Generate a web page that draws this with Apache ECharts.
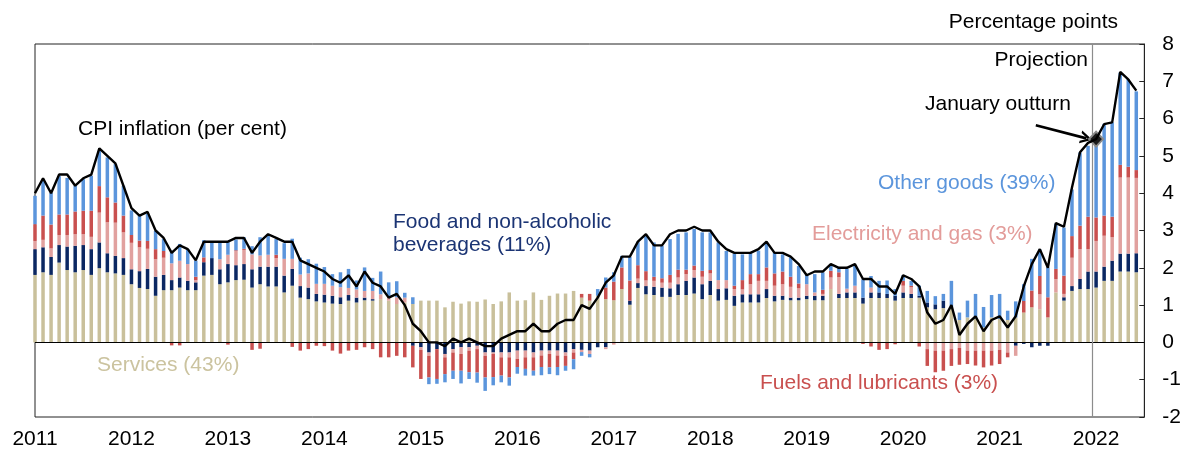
<!DOCTYPE html>
<html>
<head>
<meta charset="utf-8">
<script src="https://cdn.jsdelivr.net/npm/echarts@6/dist/echarts.min.js"></script>
<style>
  html, body { margin: 0; padding: 0; background: #fff; }
  #main { width: 1184px; height: 450px; }
</style>
</head>
<body>
<div id="main"></div>
<script>
// months from Jan 2011 (index 0) to Jun 2022 (index 137)
var yearLabels = ['2011','2012','2013','2014','2015','2016','2017','2018','2019','2020','2021','2022'];

// CPI inflation, per cent
var cpi = [
  4.0, 4.4, 4.0, 4.5, 4.5, 4.2, 4.4, 4.5, 5.2, 5.0, 4.8, 4.2,
  3.6, 3.4, 3.5, 3.0, 2.8, 2.4, 2.6, 2.5, 2.2, 2.7, 2.7, 2.7,
  2.7, 2.8, 2.8, 2.4, 2.7, 2.9, 2.8, 2.7, 2.7, 2.2, 2.1, 2.0,
  1.9, 1.7, 1.6, 1.8, 1.5, 1.9, 1.6, 1.5, 1.2, 1.3, 1.0, 0.5,
  0.3, 0.0, 0.0, -0.1, 0.1, 0.0, 0.1, 0.0, -0.1, -0.1, 0.1, 0.2,
  0.3, 0.3, 0.5, 0.3, 0.3, 0.5, 0.6, 0.6, 1.0, 0.9, 1.2, 1.6,
  1.8, 2.3, 2.3, 2.7, 2.9, 2.6, 2.6, 2.9, 3.0, 3.0, 3.1, 3.0,
  3.0, 2.7, 2.5, 2.4, 2.4, 2.4, 2.5, 2.7, 2.4, 2.4, 2.3, 2.1,
  1.8, 1.9, 1.9, 2.1, 2.0, 2.0, 2.1, 1.7, 1.7, 1.5, 1.5, 1.3,
  1.8, 1.7, 1.5, 0.8, 0.5, 0.6, 1.0, 0.2, 0.5, 0.7, 0.3, 0.6,
  0.7, 0.4, 0.7, 1.5, 2.1, 2.5, 2.0, 3.2, 3.1, 4.15, 5.1, 5.35,
  5.45, 5.85, 5.9, 7.25, 7.05, 6.75
];

// contributions, percentage points
var services = [
  1.81, 1.88, 1.81, 2.14, 1.94, 1.88, 1.94, 1.81, 1.99, 1.88, 1.85, 1.81,
  1.56, 1.46, 1.43, 1.25, 1.40, 1.40, 1.47, 1.40, 1.40, 1.79, 1.81, 1.56,
  1.61, 1.67, 1.68, 1.47, 1.56, 1.50, 1.50, 1.34, 1.52, 1.20, 1.16, 1.10,
  1.07, 1.04, 1.03, 1.12, 1.07, 1.13, 1.12, 1.16, 1.12, 1.03, 1.07, 1.03,
  1.12, 1.12, 1.12, 0.94, 1.09, 1.04, 1.10, 1.09, 1.15, 1.03, 1.10, 1.34,
  1.12, 1.13, 1.34, 1.14, 1.25, 1.31, 1.31, 1.38, 1.20, 1.12, 1.25, 1.16,
  1.13, 1.43, 1.01, 1.46, 1.29, 1.27, 1.22, 1.22, 1.27, 1.27, 1.31, 1.16,
  1.27, 1.12, 1.14, 0.98, 1.07, 1.07, 1.07, 1.19, 1.10, 1.14, 1.13, 1.13,
  1.16, 1.13, 1.13, 1.43, 1.19, 1.19, 1.19, 1.04, 1.19, 1.19, 1.19, 1.12,
  1.19, 1.19, 1.20, 0.94, 0.89, 0.92, 0.94, 0.60, 0.67, 0.63, 0.40, 0.67,
  0.63, 0.60, 0.67, 0.80, 0.94, 0.89, 0.67, 1.34, 1.12, 1.38, 1.43, 1.43,
  1.47, 1.65, 1.65, 1.90, 1.90, 1.88
];
var food = [
  0.69, 0.67, 0.48, 0.47, 0.63, 0.71, 0.67, 0.69, 0.69, 0.51, 0.47, 0.45,
  0.40, 0.45, 0.54, 0.51, 0.41, 0.27, 0.27, 0.25, 0.21, 0.36, 0.45, 0.40,
  0.49, 0.40, 0.42, 0.49, 0.47, 0.53, 0.53, 0.45, 0.45, 0.31, 0.31, 0.20,
  0.21, 0.21, 0.18, 0.15, 0.13, 0.07, 0.04, 0.00, 0.00, 0.00, 0.00, -0.09,
  -0.13, -0.27, -0.18, -0.31, -0.18, -0.13, -0.13, -0.09, -0.27, -0.27, -0.27, -0.27,
  -0.22, -0.22, -0.27, -0.22, -0.22, -0.22, -0.27, -0.18, -0.20, -0.22, -0.13, -0.13,
  0.00, 0.00, 0.11, 0.13, 0.22, 0.22, 0.25, 0.23, 0.29, 0.38, 0.43, 0.40,
  0.38, 0.31, 0.31, 0.27, 0.22, 0.22, 0.22, 0.24, 0.15, 0.11, 0.07, 0.07,
  0.09, 0.12, 0.12, 0.00, 0.11, 0.15, 0.15, 0.16, 0.15, 0.15, 0.11, 0.13,
  0.15, 0.11, 0.05, 0.13, 0.13, 0.20, 0.00, 0.00, 0.00, 0.00, 0.00, 0.00,
  0.00, 0.00, -0.09, -0.04, -0.13, -0.09, -0.09, 0.00, 0.09, 0.13, 0.27, 0.47,
  0.43, 0.38, 0.54, 0.48, 0.48, 0.51
];
var elecGas = [
  0.22, 0.20, 0.23, 0.27, 0.31, 0.31, 0.29, 0.33, 0.80, 0.83, 0.89, 0.69,
  0.71, 0.64, 0.54, 0.47, 0.46, 0.45, 0.45, 0.45, 0.06, 0.00, 0.00, 0.27,
  0.25, 0.38, 0.38, 0.40, 0.30, 0.32, 0.23, 0.45, 0.27, 0.31, 0.38, 0.27,
  0.29, 0.27, 0.27, 0.19, 0.22, 0.18, 0.22, 0.13, 0.11, 0.18, 0.13, 0.00,
  -0.07, -0.09, 0.00, -0.09, -0.09, -0.18, -0.09, -0.09, -0.09, -0.04, -0.13, -0.13,
  -0.22, -0.18, -0.13, -0.13, -0.09, -0.13, -0.09, -0.09, -0.06, -0.09, 0.00, -0.05,
  -0.06, 0.00, 0.00, 0.12, 0.15, 0.16, 0.13, 0.15, 0.18, 0.18, 0.20, 0.20,
  0.20, 0.24, 0.22, 0.18, 0.13, 0.27, 0.36, 0.22, 0.27, 0.31, 0.29, 0.25,
  0.31, 0.09, 0.05, 0.31, 0.45, 0.10, 0.18, 0.00, 0.13, 0.00, 0.00, 0.00,
  0.18, 0.18, 0.00, -0.18, -0.22, -0.22, -0.18, -0.15, -0.22, -0.22, -0.22, -0.22,
  -0.20, -0.27, -0.27, 0.00, 0.00, 0.40, 0.00, 0.36, 0.09, 0.76, 0.80, 0.60,
  0.82, 0.83, 0.63, 2.04, 2.04, 2.02
];
var fuels = [
  0.45, 0.65, 0.64, 0.55, 0.55, 0.61, 0.63, 0.70, 0.71, 0.67, 0.54, 0.45,
  0.21, 0.18, 0.21, 0.27, 0.18, -0.08, -0.08, 0.00, 0.09, 0.13, 0.00, 0.00,
  -0.06, 0.02, 0.03, -0.20, -0.17, 0.00, 0.09, 0.00, -0.12, -0.22, -0.18, -0.09,
  -0.10, -0.22, -0.30, -0.22, -0.20, -0.13, -0.18, -0.40, -0.40, -0.36, -0.40, -0.58,
  -0.78, -0.58, -0.80, -0.45, -0.49, -0.45, -0.58, -0.63, -0.58, -0.62, -0.49, -0.54,
  -0.22, -0.31, -0.36, -0.31, -0.36, -0.31, -0.27, -0.18, 0.10, 0.18, 0.00, 0.31,
  0.50, 0.58, 0.54, 0.36, 0.25, 0.11, 0.12, 0.21, 0.21, 0.12, 0.12, 0.16,
  0.09, 0.00, 0.00, 0.09, 0.25, 0.27, 0.18, 0.36, 0.33, 0.34, 0.27, 0.13,
  0.00, 0.00, 0.11, 0.18, 0.13, 0.00, 0.00, -0.04, -0.11, -0.20, -0.18, -0.05,
  0.13, 0.04, -0.11, -0.45, -0.58, -0.54, -0.45, -0.45, -0.36, -0.40, -0.45, -0.40,
  -0.38, -0.13, 0.00, 0.31, 0.45, 0.49, 0.54, 0.27, 0.49, 0.58, 0.63, 0.87,
  0.63, 0.54, 0.55, 0.34, 0.29, 0.21
];
var otherGoods = [
  0.76, 0.95, 0.85, 1.03, 0.98, 0.69, 0.85, 0.94, 0.94, 1.07, 1.03, 0.80,
  0.66, 0.71, 0.73, 0.49, 0.33, 0.34, 0.45, 0.40, 0.43, 0.46, 0.42, 0.47,
  0.36, 0.29, 0.31, 0.22, 0.49, 0.54, 0.42, 0.42, 0.54, 0.45, 0.38, 0.54,
  0.45, 0.31, 0.40, 0.51, 0.24, 0.63, 0.35, 0.61, 0.38, 0.43, 0.13, 0.18,
  0.00, -0.18, -0.13, -0.22, -0.22, -0.34, -0.18, -0.27, -0.36, -0.22, -0.18, -0.22,
  -0.18, -0.18, -0.13, -0.22, -0.18, -0.22, -0.13, -0.27, -0.10, -0.09, 0.18, 0.27,
  0.25, 0.31, 0.63, 0.63, 0.94, 0.92, 0.87, 0.96, 0.96, 1.00, 0.98, 1.03,
  1.01, 1.01, 0.78, 0.85, 0.69, 0.58, 0.63, 0.64, 0.56, 0.46, 0.52, 0.47,
  0.25, 0.49, 0.47, 0.13, 0.13, 0.53, 0.54, 0.49, 0.31, 0.31, 0.36, 0.18,
  0.15, 0.13, 0.27, 0.31, 0.22, 0.18, 0.71, 0.20, 0.45, 0.67, 0.55, 0.60,
  0.67, 0.25, 0.43, 0.45, 0.85, 0.71, 0.80, 1.21, 1.29, 1.25, 1.96, 1.90,
  2.05, 2.46, 2.53, 2.47, 2.35, 2.11
];

var nMonths = 139;          // category slots Jan 2011 .. Jul 2022 (axis end)
var projectionAt = 131.5;   // between Dec 2021 and Jan 2022
var outturnIdx = 132;       // January 2022

var FONT = '"Liberation Sans", Arial, Helvetica, sans-serif';
var colors = {
  services: '#c9c09b',
  food: '#0b2762',
  elec: '#e1a19f',
  fuels: '#c9504f',
  other: '#5b95dc'
};

var months = [];
for (var i = 0; i < nMonths; i++) months.push(i);

function barSeries(name, arr, color) {
  return {
    name: name,
    type: 'bar',
    stack: 'cpi',
    barWidth: 3.5,
    data: arr,
    itemStyle: { color: color },
    emphasis: { disabled: true }
  };
}

// open chevron arrow head (tip at top, rotated along the line by echarts)
var chevron = 'path://M6,0 L12,11 L9.6,11 L6,4.4 L2.4,11 L0,11 Z';

var chart = echarts.init(document.getElementById('main'));

var series = [
  barSeries('Services', services, colors.services),
  barSeries('Food', food, colors.food),
  barSeries('Electricity and gas', elecGas, colors.elec),
  barSeries('Fuels and lubricants', fuels, colors.fuels),
  barSeries('Other goods', otherGoods, colors.other),
  {
    name: 'CPI',
    type: 'line',
    xAxisIndex: 1,
    data: cpi.map(function (v, i) { return [i, v]; }),
    symbol: 'none',
    z: 5,
    lineStyle: { color: '#000', width: 2.4 },
    markLine: {
      silent: true,
      symbol: ['none', 'none'],
      label: { show: false },
      animation: false,
      data: [
        [{ coord: [0, 0], lineStyle: { color: '#000', width: 1, type: 'solid' } }, { coord: [138, 0] }],
        [{ coord: [projectionAt, -2], lineStyle: { color: '#8c8c8c', width: 1.2, type: 'solid' } }, { coord: [projectionAt, 8] }],
        [{ coord: [124.5, 5.82], symbol: 'none', lineStyle: { color: '#000', width: 2.6, type: 'solid' } },
         { coord: [130.8, 5.47], symbol: chevron, symbolSize: [13, 12] }]
      ]
    },
    markPoint: {
      silent: true,
      animation: false,
      data: [{
        coord: [outturnIdx, cpi[outturnIdx]],
        symbol: 'diamond',
        symbolSize: [14, 15],
        itemStyle: { color: '#1a1a1a', borderColor: '#8a8a8a', borderWidth: 2 },
        label: { show: false }
      }]
    }
  }
];

function txt(text, x, y, color, align) {
  return {
    type: 'text',
    x: x, y: y, z: 10,
    style: {
      text: text, fill: color, font: '21px ' + FONT,
      textAlign: align || 'left', textVerticalAlign: 'middle', lineHeight: 23
    }
  };
}

function isYearStart(index) { return index % 12 === 0; }

var option = {
  animation: false,
  backgroundColor: '#fff',
  textStyle: { fontFamily: FONT },
  grid: {
    left: 35, right: 39, top: 44, bottom: 32,
    show: true, borderColor: '#222', borderWidth: 1, backgroundColor: 'transparent'
  },
  xAxis: [{
    type: 'category',
    data: months,
    boundaryGap: false,
    axisLine: { show: false },
    axisTick: { inside: true, length: 5, interval: isYearStart, lineStyle: { color: '#222' } },
    splitLine: { show: false },
    axisLabel: {
      color: '#000', fontSize: 21, fontFamily: FONT, margin: 12,
      interval: isYearStart,
      formatter: function (v) { return v % 12 === 0 ? yearLabels[v / 12] : ''; }
    }
  }, {
    type: 'value',
    min: 0, max: nMonths - 1,
    show: false
  }],
  yAxis: {
    type: 'value',
    position: 'right',
    min: -2, max: 8, interval: 1,
    axisLine: { show: true, onZero: false, lineStyle: { color: '#222' } },
    axisTick: { show: true, inside: true, length: 5, lineStyle: { color: '#222' } },
    splitLine: { show: false },
    axisLabel: { color: '#000', fontSize: 21, fontFamily: FONT, margin: 18, align: 'left' }
  },
  series: series,
  graphic: [
    txt('Percentage points', 1118, 22, '#000', 'right'),
    txt('Projection', 1088, 60, '#000', 'right'),
    txt('January outturn', 925, 104, '#000'),
    txt('CPI inflation (per cent)', 78, 129, '#000'),
    txt('Food and non-alcoholic\nbeverages (11%)', 393, 234, '#1b3474'),
    txt('Other goods (39%)', 878, 183, colors.other),
    txt('Electricity and gas (3%)', 812, 234, '#e39c9a'),
    txt('Fuels and lubricants (3%)', 760, 383, colors.fuels),
    txt('Services (43%)', 97, 365, '#cbc39f')
  ]
};

chart.setOption(option);
</script>
</body>
</html>
